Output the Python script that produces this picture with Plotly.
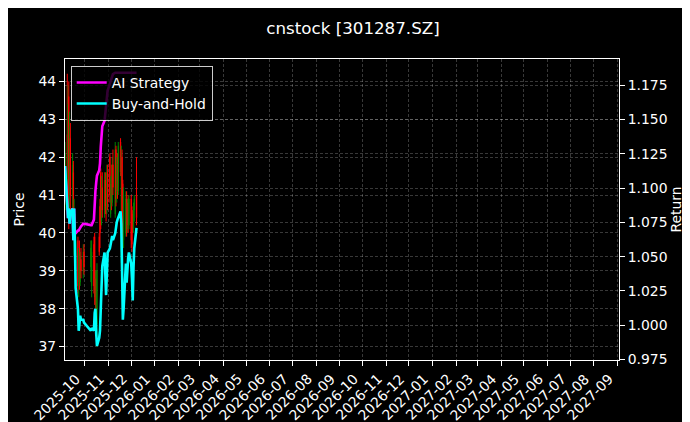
import plotly.graph_objects as go

dates = ["2025-09-05","2025-09-08","2025-09-09","2025-09-10","2025-09-11","2025-09-12",
         "2025-09-15","2025-09-16","2025-09-17","2025-09-18","2025-09-19",
         "2025-09-22","2025-09-23","2025-09-24","2025-09-25","2025-09-26",
         "2025-09-29","2025-09-30",
         "2025-10-09","2025-10-10","2025-10-13","2025-10-14","2025-10-15","2025-10-16","2025-10-17",
         "2025-10-20","2025-10-21","2025-10-22","2025-10-23","2025-10-24",
         "2025-10-27","2025-10-28","2025-10-29","2025-10-30","2025-10-31",
         "2025-11-03","2025-11-04","2025-11-05","2025-11-06","2025-11-07",
         "2025-11-10","2025-11-11","2025-11-12","2025-11-13","2025-11-14",
         "2025-11-17","2025-11-18","2025-11-19","2025-11-20","2025-11-21",
         "2025-11-24","2025-11-25","2025-11-26","2025-11-27","2025-11-28",
         "2025-12-01","2025-12-02","2025-12-03","2025-12-04","2025-12-05","2025-12-08"]

open_ = [41.2,42.6,41.0,43.6,40.6,42.5,41.0,41.6,40.3,40.4,39.2,39.8,38.6,39.3,38.7,39.3,39.0,39.5,
         39.1,38.6,39.7,39.9,38.3,38.8,37.6,39.9,40.7,41.6,40.3,41.2,40.6,41.4,40.7,40.6,41.6,
         42.0,40.5,41.3,40.8,41.8,40.5,42.2,40.9,41.8,41.1,42.4,39.5,42.0,41.3,39.8,
         40.0,40.9,40.1,40.8,40.2,40.9,40.5,40.5,40.1,40.6,41.0]
high = [42.4,44.2,43.9,44.0,43.2,42.9,42.1,41.9,40.9,40.5,40.0,39.9,39.6,39.8,39.5,39.6,39.7,39.7,
        39.8,39.8,39.9,40.0,39.0,39.0,39.2,40.0,40.9,41.7,41.5,41.6,41.6,41.6,41.0,41.8,41.8,
        42.1,41.5,41.8,42.0,42.2,42.4,42.3,42.0,42.1,42.4,42.5,42.3,42.2,41.4,41.2,
        41.1,41.1,40.9,41.0,41.0,41.0,40.7,40.6,40.8,41.0,42.0]
low = [40.6,40.9,40.8,40.1,40.3,40.6,40.4,40.2,39.4,39.0,38.9,38.4,38.3,38.5,38.6,38.8,38.8,38.9,
       38.7,38.3,38.4,38.1,37.9,37.4,37.0,39.4,39.6,40.1,40.2,40.4,40.4,40.5,40.3,40.5,40.6,
       40.8,40.4,40.6,40.7,41.0,40.4,40.7,40.8,40.9,41.0,41.5,39.2,39.9,39.6,39.6,
       39.9,39.9,40.0,40.0,40.1,39.6,39.5,40.0,40.0,40.3,40.2]
close = [42.1,41.2,43.4,40.5,42.8,41.0,41.8,40.4,40.6,39.2,39.8,38.6,39.3,38.7,39.4,39.0,39.5,39.1,
         39.6,39.5,38.6,38.3,38.8,37.6,39.0,39.5,40.0,40.3,41.2,40.6,41.4,40.7,40.5,41.6,40.8,
         41.0,41.3,40.8,41.8,41.2,42.2,40.9,41.8,41.1,42.3,41.6,42.0,40.2,39.8,41.0,
         40.9,40.1,40.8,40.2,40.9,39.8,39.7,40.1,40.6,40.9,40.4]

ai_strategy = [1.116,1.082,1.078,1.085,1.074,1.082,1.085,1.062,1.085,1.067,1.067,1.069,1.069,1.070,1.072,1.072,1.074,1.074,
               1.073,1.073,1.077,1.092,1.098,1.104,1.109,1.113,1.118,1.130,1.142,1.145,1.149,1.155,1.160,1.166,1.171,
               1.176,1.178,1.180,1.182,1.183,1.184,1.184,1.184,1.184,1.184,1.184,1.184,1.184,1.184,1.184,
               1.184,1.184,1.184,1.184,1.184,1.184,1.184,1.184,1.184,1.184,1.184]
buy_hold = [1.116,1.082,1.078,1.085,1.074,1.082,1.085,1.062,1.085,1.060,1.027,1.012,0.996,1.001,1.007,1.004,1.004,1.002,
            0.996,0.998,0.996,1.009,1.012,0.994,0.985,0.991,0.996,1.012,1.027,1.043,1.053,1.042,1.022,1.038,1.053,
            1.056,1.058,1.062,1.065,1.062,1.067,1.072,1.075,1.077,1.079,1.083,1.074,1.049,1.004,1.012,
            1.045,1.031,1.043,1.049,1.053,1.045,1.034,1.018,1.042,1.056,1.071]

month_ticks = ["2025-10","2025-11","2025-12","2026-01","2026-02","2026-03","2026-04","2026-05",
               "2026-06","2026-07","2026-08","2026-09","2026-10","2026-11","2026-12","2027-01",
               "2027-02","2027-03","2027-04","2027-05","2027-06","2027-07","2027-08","2027-09"]
price_ticks = [37, 38, 39, 40, 41, 42, 43, 44]
return_ticks = [0.975, 1.000, 1.025, 1.050, 1.075, 1.100, 1.125, 1.150, 1.175]

FONT = "DejaVu Sans"
GRID = "rgba(255,255,255,0.22)"
PLOT_H = 422 - 51 - 70

fig = go.Figure()
fig.add_trace(go.Candlestick(
    x=dates, open=open_, high=high, low=low, close=close,
    increasing=dict(line=dict(color="#008000", width=1), fillcolor="#008000"),
    decreasing=dict(line=dict(color="#ff0000", width=1), fillcolor="#ff0000"),
    showlegend=False, yaxis="y"))
fig.add_trace(go.Scatter(x=dates, y=ai_strategy, mode="lines", name="AI Strategy",
                         line=dict(color="#ff00ff", width=2.6), yaxis="y2"))
fig.add_trace(go.Scatter(x=dates, y=buy_hold, mode="lines", name="Buy-and-Hold",
                         line=dict(color="#00ffff", width=2.6), yaxis="y2"))

axis_common = dict(showline=True, linecolor="white", linewidth=1, ticks="outside",
                   ticklen=5, tickcolor="white", tickwidth=1, zeroline=False,
                   automargin=False,
                   tickfont=dict(color="white", size=13.9, family=FONT),
                   gridcolor=GRID, gridwidth=0.7, griddash="3px,2px")

tick_dates = [m + "-01" for m in month_ticks]
annotations = [dict(x=d, y=-9.5 / PLOT_H, xref="x", yref="paper", text=m, showarrow=False,
                    textangle=-45, xanchor="right", yanchor="top", borderpad=0,
                    font=dict(size=13.9, color="white", family=FONT))
               for d, m in zip(tick_dates, month_ticks)]

fig.update_layout(
    width=690, height=422,
    paper_bgcolor="black", plot_bgcolor="black",
    margin=dict(l=57, r=79, t=51, b=70),
    font=dict(family=FONT, color="white", size=13.9),
    title=dict(text="cnstock [301287.SZ]", x=0.5, xref="container", xanchor="center",
               y=1 - 20 / 422, yref="container", yanchor="middle",
               font=dict(size=16.7, color="white", family=FONT)),
    xaxis=dict(type="date", range=["2025-09-05", "2027-09-03"], tickvals=tick_dates,
               showticklabels=False, mirror=True,
               rangeslider=dict(visible=False), showgrid=True, **axis_common),
    yaxis=dict(range=[36.645, 44.59], tickvals=price_ticks, showgrid=True,
               title=dict(text="Price", standoff=10, font=dict(size=13.9, color="white")),
               **axis_common),
    yaxis2=dict(range=[0.9747, 1.1940], tickvals=return_ticks, tickformat=".3f",
                overlaying="y", side="right", showgrid=True,
                title=dict(text="Return", standoff=2, font=dict(size=13.9, color="white")),
                **axis_common),
    legend=dict(x=0.0103, y=0.977, xanchor="left", yanchor="top",
                bgcolor="rgba(0,0,0,0.8)", bordercolor="rgba(255,255,255,0.8)", borderwidth=1,
                font=dict(size=13.9, color="white", family=FONT), itemwidth=30,
                tracegroupgap=0),
    annotations=annotations,
)

fig.write_html("out.html")
